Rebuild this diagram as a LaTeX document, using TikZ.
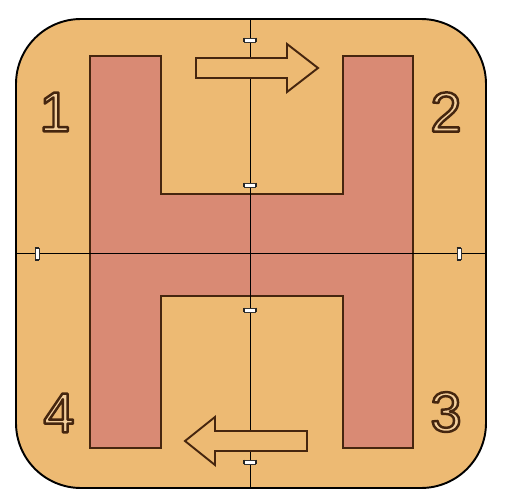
\documentclass[tikz,border=0pt]{standalone}
\usepackage{fontspec}
\setmainfont{Liberation Sans}
\usetikzlibrary{calc}
\definecolor{plate}{RGB}{237,186,115}
\definecolor{hbar}{RGB}{217,138,116}
\definecolor{edge}{RGB}{70,38,15}
\tikzset{
%Define style for the different parts
plate line/.style={draw=black, line width=1.1pt, fill=plate},
h line/.style={draw=edge, line width=1.3pt, fill=hbar},
center line/.style={black, line width=0.5pt},
hollow arrow/.style={draw=edge, line width=1.1pt, fill=plate, line join=miter},
corner number/.style={font=\fontsize{32}{32}\selectfont, inner sep=0pt},
gapbox/.style={draw=black!80, fill=white, line width=0.4pt, minimum width=11*0.02cm, minimum height=4*0.02cm, inner sep=0pt},
gapend/.style={black!85, line width=1.1pt},
}
\newcommand{\hollownum}[1]{\textcolor{plate!70!white}{\special{pdf:literal direct q 2 Tr 1.4 w 1 j 0.27 0.15 0.06 RG}#1\special{pdf:literal direct Q}}}

\begin{document}
\begin{tikzpicture}[x=0.02cm, y=-0.02cm]
    \useasboundingbox (0,0) rectangle (505,501);
    % Plate
    \draw[plate line, rounded corners=65*0.02cm] (16,19) rectangle (486,488);

    % Let us define some coordinates of the H
    \path
    coordinate (lt) at (90,56)
    coordinate (lb) at (90,448)
    coordinate (rt) at (413,56)
    coordinate (rb) at (413,448);

    \draw[h line] (lt) -- (161,56) -- (161,194) -- (343,194) -- (343,56) -- (rt)
      -- (rb) -- (343,448) -- (343,296) -- (161,296) -- (161,448) -- (lb) -- cycle;

    % Center lines
    \coordinate (top) at (250,19);
    \coordinate (bot) at (250,488);
    \coordinate (left) at (16,253);
    \coordinate (right) at (486,253);
    \draw[center line] (top) -- (bot);
    \draw[center line] (left) -- (right);

    % Arrows
    \draw[hollow arrow] (196,58) -- (287,58) -- (287,44) -- (318,68) -- (287,92)
      -- (287,78) -- (196,78) -- cycle;
    \draw[hollow arrow] (307,431) -- (215,431) -- (215,417) -- (185,441) -- (215,465)
      -- (215,451) -- (307,451) -- cycle;

    % Gaps on the center lines
    \foreach \n/\y in {g1/40, g2/185, g3/310, g4/462}{
      \node[gapbox] (\n) at (250,\y) {};
      \draw[gapend] (\n.north west) -- (\n.south west);
      \draw[gapend] (\n.north east) -- (\n.south east);
    }
    \foreach \n/\x in {g5/37, g6/459}{
      \node[gapbox, rotate=90] (\n) at (\x,254) {};
      \draw[gapend] (\n.north west) -- (\n.south west);
      \draw[gapend] (\n.north east) -- (\n.south east);
    }

    % Corner numbers
    \node[corner number] (n1) at (55,112) {\hollownum{1}};
    \node[corner number] (n2) at (446,112) {\hollownum{2}};
    \node[corner number] (n3) at (446,412) {\hollownum{3}};
    \node[corner number] (n4) at (59,413) {\hollownum{4}};
\end{tikzpicture}
\end{document}
